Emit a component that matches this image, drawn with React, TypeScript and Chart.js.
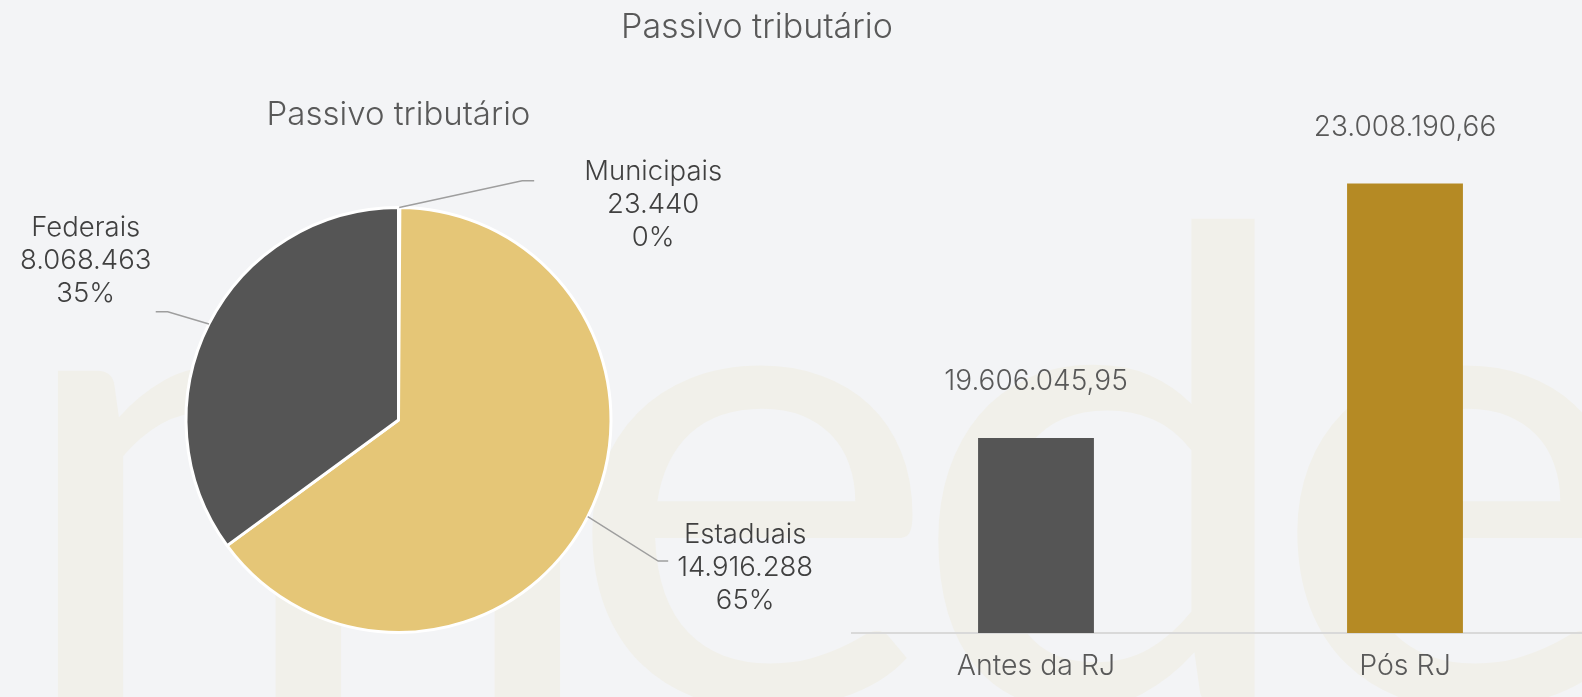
import React, { useEffect, useRef } from 'react';
import { Chart, registerables } from 'chart.js';

Chart.register(...registerables);

// ---------- data ----------
const PAGE_TITLE = 'Passivo tributário';
const PIE_TITLE = 'Passivo tributário';
const pieLabels = ['Municipais', 'Estaduais', 'Federais'];
const pieValues = [23440, 14916288, 8068463];
const pieColors = ['#b58a24', '#e5c677', '#555555'];
const barLabels = ['Antes da RJ', 'Pós RJ'];
const barValues = [19606045.95, 23008190.66];
const barColors = ['#555555', '#b58a24'];
const Y_MIN = 17000000;
const Y_MAX = 24000000;
const WATERMARK_LETTERS = ['m', 'e', 'd', 'e'];

// ---------- style / layout ----------
const BG = '#f3f4f6';
const WATERMARK_COLOR = '#f1f0ea';
const WATERMARK_X = [52, 585, 930, 1290];
const WATERMARK_W = [514, 335, 332, 335];
const FONT = 'Inter, Lato, "Open Sans", sans-serif';
const TEXT_DARK = '#404040';
const TEXT_MID = '#595959';
const LEADER = '#9e9e9e';
// elbow positions relative to pie centre (in radii), horizontal tail, text offsets (px)
const pieLabelLayout = [
  { ex: 0.582, ey: -1.126, hx: 12, tx: 131, ty: 24 },
  { ex: 1.222, ey: 0.664, hx: 10, tx: 87, ty: 7 },
  { ex: -1.086, ey: -0.509, hx: -12, tx: -82, ty: -51 },
];

const fmtInt = (n: number) => String(Math.round(n)).replace(/\B(?=(\d{3})+(?!\d))/g, '.');
const fmtDec = (n: number) => {
  const [i, d] = n.toFixed(2).split('.');
  return fmtInt(Number(i)) + ',' + d;
};

const backgroundPlugin = {
  id: 'pageBackground',
  beforeDraw(chart: any) {
    const ctx = chart.ctx;
    ctx.save();
    ctx.fillStyle = BG;
    ctx.fillRect(0, 0, chart.width, chart.height);
    ctx.fillStyle = WATERMARK_COLOR;
    ctx.font = '400 660px Lato, sans-serif';
    ctx.textBaseline = 'alphabetic';
    ctx.textAlign = 'left';
    WATERMARK_LETTERS.forEach((ch, i) => {
      const m = ctx.measureText(ch);
      const inkW = m.actualBoundingBoxLeft + m.actualBoundingBoxRight;
      const sx = inkW > 0 ? WATERMARK_W[i] / inkW : 1;
      ctx.save();
      ctx.translate(WATERMARK_X[i], 705);
      ctx.scale(sx, 1);
      ctx.fillText(ch, m.actualBoundingBoxLeft, 0);
      ctx.restore();
    });
    ctx.restore();
  },
  afterDraw(chart: any) {
    const ctx = chart.ctx;
    ctx.save();
    ctx.fillStyle = TEXT_MID;
    ctx.font = `300 34px ${FONT}`;
    ctx.textAlign = 'center';
    ctx.textBaseline = 'middle';
    ctx.fillText(PAGE_TITLE, 757, 28);
    ctx.restore();
  },
};

const barValuePlugin = {
  id: 'barValues',
  afterDatasetsDraw(chart: any) {
    const ctx = chart.ctx;
    const meta = chart.getDatasetMeta(0);
    ctx.save();
    ctx.fillStyle = TEXT_MID;
    ctx.font = `300 28px ${FONT}`;
    ctx.textAlign = 'center';
    ctx.textBaseline = 'middle';
    meta.data.forEach((bar: any, i: number) => {
      const { x, y } = bar.getProps(['x', 'y'], true);
      ctx.fillText(fmtDec(barValues[i]), x, y - 56);
    });
    ctx.restore();
  },
};

const pieLabelPlugin = {
  id: 'pieOuterLabels',
  afterDatasetsDraw(chart: any) {
    const ctx = chart.ctx;
    const meta = chart.getDatasetMeta(0);
    const total = pieValues.reduce((a, b) => a + b, 0);
    ctx.save();
    meta.data.forEach((arc: any, i: number) => {
      const { x, y, startAngle, endAngle, outerRadius } = arc.getProps(
        ['x', 'y', 'startAngle', 'endAngle', 'outerRadius'],
        true
      );
      const mid = (startAngle + endAngle) / 2;
      const sx = x + Math.cos(mid) * outerRadius;
      const sy = y + Math.sin(mid) * outerRadius;
      const L = pieLabelLayout[i];
      const ex = x + L.ex * outerRadius;
      const ey = y + L.ey * outerRadius;
      ctx.strokeStyle = LEADER;
      ctx.lineWidth = 1.5;
      ctx.beginPath();
      ctx.moveTo(sx, sy);
      ctx.lineTo(ex, ey);
      ctx.lineTo(ex + L.hx, ey);
      ctx.stroke();
      const lines = [
        pieLabels[i],
        fmtInt(pieValues[i]),
        Math.round((pieValues[i] / total) * 100) + '%',
      ];
      ctx.fillStyle = TEXT_DARK;
      ctx.font = `300 27.5px ${FONT}`;
      ctx.textAlign = 'center';
      ctx.textBaseline = 'middle';
      lines.forEach((t, k) => {
        ctx.fillText(t, ex + L.tx, ey + L.ty + (k - 1) * 33);
      });
    });
    ctx.restore();
  },
};

export default function App() {
  const barRef = useRef<HTMLCanvasElement>(null);
  const pieRef = useRef<HTMLCanvasElement>(null);

  useEffect(() => {
    document.documentElement.style.overflow = 'hidden';
    document.body.style.margin = '0';

    const bar = new Chart(barRef.current as HTMLCanvasElement, {
      type: 'bar',
      data: {
        labels: barLabels,
        datasets: [
          {
            data: barValues,
            backgroundColor: barColors,
            borderWidth: 0,
            categoryPercentage: 1,
            barPercentage: 0.314,
          },
        ],
      },
      options: {
        responsive: false,
        animation: false,
        devicePixelRatio: 1,
        layout: { padding: { left: 851.5, right: 10.5, top: 109.4, bottom: -2.2 } },
        plugins: { legend: { display: false }, tooltip: { enabled: false }, title: { display: false } },
        scales: {
          x: {
            grid: { display: false, drawTicks: false },
            border: { display: true, color: '#d9d9d9', width: 2 },
            ticks: { color: TEXT_MID, padding: 16, font: { family: FONT, size: 28.5, weight: '300' } },
          },
          y: { display: false, min: Y_MIN, max: Y_MAX },
        },
      },
      plugins: [backgroundPlugin, barValuePlugin],
    });

    const pie = new Chart(pieRef.current as HTMLCanvasElement, {
      type: 'pie',
      data: {
        labels: pieLabels,
        datasets: [
          {
            data: pieValues,
            backgroundColor: pieColors,
            borderColor: '#ffffff',
            borderWidth: 3,
          },
        ],
      },
      options: {
        responsive: false,
        animation: false,
        devicePixelRatio: 1,
        layout: { padding: { left: 184.5, right: 969.5, top: 85.2, bottom: 63 } },
        plugins: {
          legend: { display: false },
          tooltip: { enabled: false },
          title: {
            display: true,
            text: PIE_TITLE,
            color: TEXT_MID,
            font: { family: FONT, size: 33, weight: '300' },
            padding: { top: 10, bottom: 71.2 },
          },
        },
      },
      plugins: [pieLabelPlugin],
    });

    return () => {
      bar.destroy();
      pie.destroy();
    };
  }, []);

  return (
    <div
      style={{
        position: 'fixed',
        left: 0,
        top: 0,
        width: 1582,
        height: 697,
        overflow: 'hidden',
        background: BG,
      }}
    >
      <canvas ref={barRef} width={1600} height={697} style={{ position: 'absolute', left: 0, top: 0 }} />
      <canvas ref={pieRef} width={1582} height={697} style={{ position: 'absolute', left: 0, top: 0 }} />
    </div>
  );
}
